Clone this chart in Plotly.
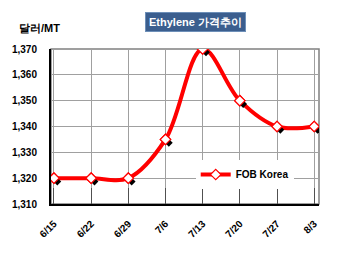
import plotly.graph_objects as go

dates = ["6/15", "6/22", "6/29", "7/6", "7/13", "7/20", "7/27", "8/3"]
fob_korea = [1320, 1320, 1320, 1335, 1370, 1350, 1340, 1340]
y_ticks = [1310, 1320, 1330, 1340, 1350, 1360, 1370]
series_name = "FOB Korea"
title_text = "Ethylene 가격추이"
unit_text = "달러/MT"

xs = list(range(len(dates)))
FONT = "Liberation Sans, Arial, sans-serif"

fig = go.Figure()
fig.add_trace(go.Scatter(
    x=xs, y=fob_korea, mode="lines+markers", name=series_name,
    line=dict(color="#FF0000", width=4, shape="spline", smoothing=1.0),
    marker=dict(symbol="diamond", size=8, color="white",
                line=dict(color="#FF0000", width=1.2))))
# shadow markers (slightly offset)
fig.add_trace(go.Scatter(
    x=[v + 0.09 for v in xs], y=[v - 1.3 for v in fob_korea], mode="markers",
    marker=dict(symbol="diamond", size=6, color="black"),
    showlegend=False, hoverinfo="skip"))
fig.add_trace(go.Scatter(
    x=xs, y=fob_korea, mode="markers", showlegend=False, hoverinfo="skip",
    marker=dict(symbol="diamond", size=8, color="white",
                line=dict(color="#FF0000", width=1.2))))

fig.update_layout(
    width=350, height=253,
    margin=dict(l=49, r=31, t=49, b=49),
    paper_bgcolor="white", plot_bgcolor="white",
    font=dict(family=FONT, size=11, color="black"),
    showlegend=True,
    legend=dict(x=0.54, y=0.19, xanchor="left", yanchor="middle",
                bgcolor="white", font=dict(size=10, weight="bold"),
                itemwidth=30, tracegroupgap=0),
)
fig.update_xaxes(
    range=[-0.08, 7.13], tickmode="array", tickvals=xs, ticktext=dates,
    tickangle=-45, tickfont=dict(size=10, weight="bold"),
    ticklabelstandoff=8,
    showgrid=True, gridcolor="#A0A0A0", gridwidth=1,
    showline=True, linecolor="black", linewidth=2, mirror=False,
    ticks="inside", ticklen=16, tickcolor="#505050", tickwidth=1,
    zeroline=False,
)
fig.update_yaxes(
    range=[1310, 1370], tickmode="array", tickvals=y_ticks,
    tickformat=",d", tickfont=dict(size=10, weight="bold"),
    ticklabelstandoff=10,
    showgrid=True, gridcolor="#A0A0A0", gridwidth=1,
    showline=True, linecolor="black", linewidth=2,
    ticks="", zeroline=False,
)
fig.add_shape(type="rect", xref="paper", yref="paper", x0=0, y0=0, x1=1, y1=1,
              line=dict(color="#808080", width=1.5), layer="below")

fig.add_annotation(
    text="<b>" + title_text + "</b>", xref="paper", yref="paper",
    x=0.54, y=1.171, xanchor="center", yanchor="middle", showarrow=False,
    font=dict(family=FONT, size=11, color="white"),
    bgcolor="#3B5E8E", bordercolor="#6D8FB8", borderwidth=1, borderpad=3)
fig.add_annotation(
    text="<b>" + unit_text + "</b>", xref="paper", yref="paper",
    x=-0.126, y=1.135, xanchor="left", yanchor="middle", showarrow=False,
    font=dict(family=FONT, size=11, color="black"))

fig.write_html("out.html")
